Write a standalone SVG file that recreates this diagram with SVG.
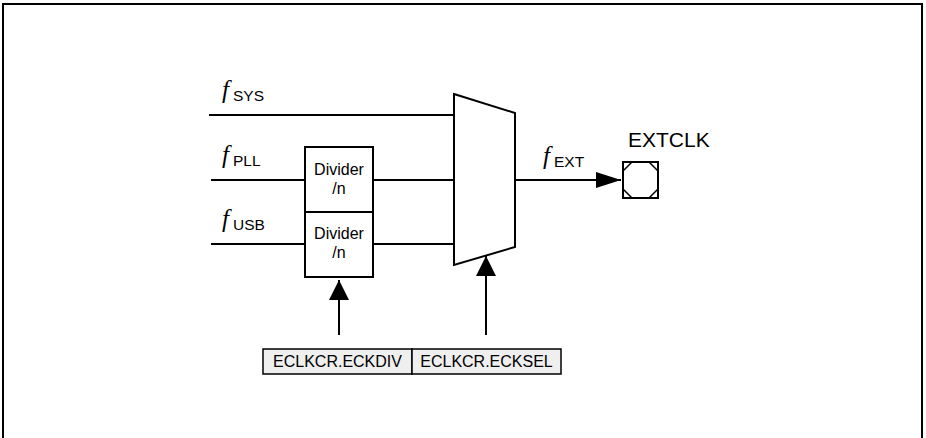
<svg xmlns="http://www.w3.org/2000/svg" width="926" height="438" viewBox="0 0 926 438">
<style>
.ln{stroke:#000;stroke-width:2;fill:none}
.box{stroke:#000;stroke-width:2;fill:#fff}
.reg{stroke:#000;stroke-width:1.5;fill:#efefef}
.t{font-family:"Liberation Sans",Arial,sans-serif;fill:#000}
.f{font-family:"Liberation Serif","Times New Roman",serif;font-style:italic;font-size:25px;fill:#000}
.sub{font-family:"Liberation Sans",Arial,sans-serif;font-size:15.5px;fill:#000}
</style>
<defs>
<marker id="ahv" viewBox="0 0 20 20" refX="20" refY="10" markerWidth="20" markerHeight="20" markerUnits="userSpaceOnUse" orient="auto">
<path d="M0,0 L20,10 L0,20 z" fill="#000"/>
</marker>
<marker id="ahh" viewBox="0 0 25 16" refX="25" refY="8" markerWidth="25" markerHeight="16" markerUnits="userSpaceOnUse" orient="auto">
<path d="M0,0 L25,8 L0,16 z" fill="#000"/>
</marker>
</defs>
<rect id="frame" x="3" y="4" width="919" height="470" fill="none" stroke="#000" stroke-width="2"/>

<g id="labels">
<text class="f" x="222" y="98">f</text><text class="sub" x="233" y="101">SYS</text>
<text class="f" x="222" y="163">f</text><text class="sub" x="233" y="166">PLL</text>
<text class="f" x="222" y="227">f</text><text class="sub" x="233" y="230">USB</text>
<text class="f" x="543" y="164">f</text><text class="sub" x="554" y="167">EXT</text>
</g>

<g id="connectors">
<line class="ln" x1="209" y1="115" x2="454" y2="115"/>
<line class="ln" x1="211" y1="180" x2="305" y2="180"/>
<line class="ln" x1="211" y1="244" x2="305" y2="244"/>
<line class="ln" x1="373" y1="180" x2="454" y2="180"/>
<line class="ln" x1="373" y1="244" x2="454" y2="244"/>
<line class="ln" x1="515" y1="180" x2="621" y2="180" marker-end="url(#ahh)"/>
<line class="ln" x1="339" y1="335" x2="339" y2="280" marker-end="url(#ahv)"/>
<line class="ln" x1="486" y1="335" x2="486" y2="256" marker-end="url(#ahv)"/>
</g>

<g id="divider1">
<rect class="box" x="305" y="147" width="68" height="65"/>
<text class="t" x="339" y="175" font-size="16" text-anchor="middle">Divider</text>
<text class="t" x="339" y="194" font-size="16" text-anchor="middle">/n</text>
</g>
<g id="divider2">
<rect class="box" x="305" y="212" width="68" height="65"/>
<text class="t" x="339" y="239" font-size="16" text-anchor="middle">Divider</text>
<text class="t" x="339" y="258" font-size="16" text-anchor="middle">/n</text>
</g>

<g id="mux">
<polygon class="box" points="454,94 515,113 515,247 454,265"/>
</g>

<g id="extclk">
<text class="t" x="628" y="147" font-size="21">EXTCLK</text>
<rect class="box" x="623" y="162" width="35" height="36" stroke-width="1.8"/>
<polygon points="632,162 649,162 658,171 658,189 649,198 632,198 623,189 623,171" fill="none" stroke="#000" stroke-width="1.5"/>
</g>

<g id="reg-eckdiv">
<rect class="reg" x="263" y="349" width="149" height="25"/>
<text class="t" x="337.5" y="367" font-size="16" text-anchor="middle">ECLKCR.ECKDIV</text>
</g>
<g id="reg-ecksel">
<rect class="reg" x="412" y="349" width="149" height="25"/>
<text class="t" x="486.5" y="367" font-size="16" text-anchor="middle">ECLKCR.ECKSEL</text>
</g>
</svg>
